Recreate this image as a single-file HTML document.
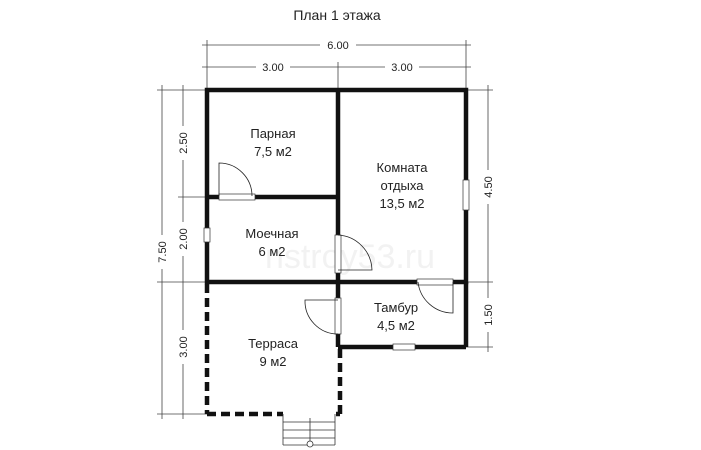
<!DOCTYPE html>
<html><head><meta charset="utf-8"><style>
html,body{margin:0;padding:0;background:#fff}
svg{display:block}
text{font-family:"Liberation Sans",sans-serif;fill:#222}
</style></head><body>
<svg width="701" height="450" viewBox="0 0 701 450">
<text x="337" y="20" font-size="14" text-anchor="middle">План 1 этажа</text>
<text x="350" y="268" font-size="34" text-anchor="middle" style="fill:#f2f2f2">nstroy53.ru</text>
<g stroke="#444" stroke-width="0.8" fill="none">
<line x1="202" y1="45" x2="471" y2="45"/>
<line x1="202" y1="67" x2="471" y2="67"/>
<line x1="207" y1="40" x2="207" y2="90"/>
<line x1="466" y1="40" x2="466" y2="90"/>
<line x1="338" y1="62" x2="338" y2="90"/>
<line x1="162" y1="85" x2="162" y2="419"/>
<line x1="183" y1="85" x2="183" y2="419"/>
<line x1="157" y1="90" x2="207" y2="90"/>
<line x1="178" y1="197" x2="207" y2="197"/>
<line x1="157" y1="282" x2="207" y2="282"/>
<line x1="157" y1="414" x2="207" y2="414"/>
<line x1="488" y1="85" x2="488" y2="352"/>
<line x1="466" y1="90" x2="493" y2="90"/>
<line x1="466" y1="282" x2="493" y2="282"/>
<line x1="466" y1="347" x2="493" y2="347"/>
</g>
<g font-size="11" text-anchor="middle">
<rect x="320" y="38" width="36" height="14" fill="#fff"/><text x="338" y="49">6.00</text>
<rect x="256" y="60" width="34" height="14" fill="#fff"/><text x="273" y="71">3.00</text>
<rect x="385" y="60" width="34" height="14" fill="#fff"/><text x="402" y="71">3.00</text>
<rect x="155" y="235" width="14" height="34" fill="#fff"/><text transform="translate(166,252) rotate(-90)">7.50</text>
<rect x="176" y="126" width="14" height="34" fill="#fff"/><text transform="translate(187,143) rotate(-90)">2.50</text>
<rect x="176" y="222" width="14" height="34" fill="#fff"/><text transform="translate(187,239) rotate(-90)">2.00</text>
<rect x="176" y="330" width="14" height="34" fill="#fff"/><text transform="translate(187,347) rotate(-90)">3.00</text>
<rect x="481" y="170" width="14" height="34" fill="#fff"/><text transform="translate(492,187) rotate(-90)">4.50</text>
<rect x="481" y="298" width="14" height="34" fill="#fff"/><text transform="translate(492,315) rotate(-90)">1.50</text>
</g>
<g stroke="#111" stroke-width="4.5" fill="none">
<rect x="207" y="90" width="259" height="192"/>
<line x1="338" y1="90" x2="338" y2="347"/>
<line x1="207" y1="197" x2="338" y2="197"/>
<line x1="338" y1="347" x2="466" y2="347"/>
<line x1="466" y1="282" x2="466" y2="347"/>
</g>
<g stroke="#111" stroke-width="4.5" stroke-dasharray="9,5" fill="none">
<line x1="207" y1="284" x2="207" y2="414"/>
<line x1="207" y1="414" x2="283" y2="414"/>
<line x1="340" y1="349" x2="340" y2="414"/>
<line x1="340" y1="414" x2="336" y2="414"/>
</g>
<g fill="#fff" stroke="#333" stroke-width="0.7">
<rect x="219" y="194" width="36" height="6"/>
<rect x="204" y="228" width="6" height="14"/>
<rect x="463" y="180" width="6" height="30"/>
<rect x="335" y="235" width="6" height="38"/>
<rect x="417" y="279" width="36" height="6"/>
<rect x="335" y="298" width="6" height="36"/>
<rect x="393" y="344" width="22" height="6"/>
</g>
<g stroke="#222" stroke-width="0.8" fill="none">
<path d="M219 196 V163 A33 33 0 0 1 252 196"/>
<path d="M338 235 A36 36 0 0 1 372 270 H338"/>
<path d="M453 282 V313 A35 35 0 0 1 418 282"/>
<path d="M338 300 H305 A33 33 0 0 0 338 334"/>
</g>
<g stroke="#333" stroke-width="0.8" fill="none">
<line x1="283" y1="414" x2="283" y2="445"/>
<line x1="335" y1="414" x2="335" y2="445"/>
<line x1="283" y1="422" x2="335" y2="422"/>
<line x1="283" y1="430" x2="335" y2="430"/>
<line x1="283" y1="438" x2="335" y2="438"/>
<line x1="283" y1="445" x2="335" y2="445"/>
<line x1="310" y1="418" x2="310" y2="441"/>
<circle cx="310" cy="444" r="3" fill="#fff"/>
</g>
<g font-size="13" text-anchor="middle">
<text x="273" y="138">Парная</text><text x="273" y="156">7,5 м2</text>
<text x="402" y="172">Комната</text><text x="402" y="190">отдыха</text><text x="402" y="208">13,5 м2</text>
<text x="272" y="238">Моечная</text><text x="272" y="256">6 м2</text>
<text x="396" y="312">Тамбур</text><text x="396" y="330">4,5 м2</text>
<text x="273" y="348">Терраса</text><text x="273" y="366">9 м2</text>
</g>
</svg>
</body></html>
